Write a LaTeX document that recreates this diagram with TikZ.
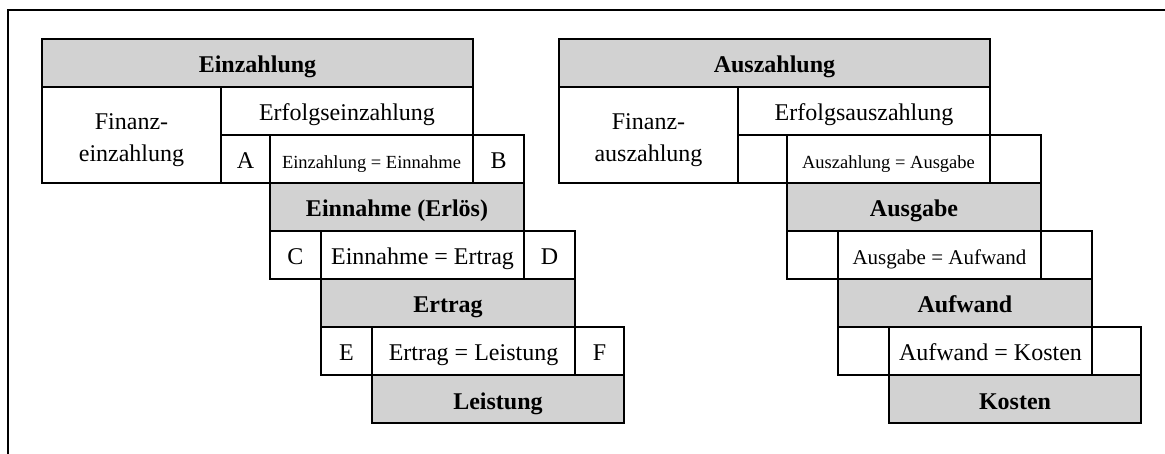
\documentclass[tikz,border=0pt]{standalone}
\usepackage{fontspec}
\setmainfont{Liberation Serif}
\definecolor{boxgray}{RGB}{210,210,210}
\newcommand{\fsmain}{\fontsize{24}{32}\selectfont}
\newcommand{\fssmall}{\fontsize{18.5}{22}\selectfont}
\newcommand{\fsmid}{\fontsize{21}{25}\selectfont}
\tikzset{
  cell/.style={draw, line width=2pt, inner sep=0pt, outer sep=0pt, fill=white,
    minimum height=48pt, font=\fsmain, text height=20pt, text depth=0pt},
  head/.style={cell, fill=boxgray, font=\fsmain\bfseries},
  twoline/.style={cell, align=center, text height=, text depth=},
  frameline/.style={line width=2.4pt}
}
\begin{document}
\begin{tikzpicture}[x=1pt, y=-1pt]
\useasboundingbox (0,0) rectangle (1165,454);
\draw[frameline] (8,454) -- (8,10) -- (1165,10);

% left block: Einzahlung cascade
\node[head, minimum width=431pt] (ein) at (257.5,63) {Einzahlung};
\node[cell, minimum width=179pt, minimum height=96pt] (finE) at (131.5,135) {};
\node[twoline, draw=none, fill=none] (finEt) at (131.5,140) {Finanz-\\einzahlung};
\node[cell, minimum width=252pt] (erfE) at (347,111) {Erfolgseinzahlung};
\node[cell, minimum width=49pt] (cA) at (245.5,159) {A};
\node[cell, minimum width=203pt, font=\fssmall] (eqA) at (371.5,159) {Einzahlung = Einnahme};
\node[cell, minimum width=51pt] (cB) at (498.5,159) {B};
\node[head, minimum width=254pt] (einn) at (397,207) {Einnahme (Erlös)};
\node[cell, minimum width=51pt] (cC) at (295.5,255) {C};
\node[cell, minimum width=203pt] (eqC) at (422.5,255) {Einnahme = Ertrag};
\node[cell, minimum width=51pt] (cD) at (549.5,255) {D};
\node[head, minimum width=254pt] (ertr) at (448,303) {Ertrag};
\node[cell, minimum width=51pt] (cE) at (346.5,351) {E};
\node[cell, minimum width=203pt] (eqE) at (473.5,351) {Ertrag = Leistung};
\node[cell, minimum width=49pt] (cF) at (599.5,351) {F};
\node[head, minimum width=252pt] (leist) at (498,399) {Leistung};

% right block: Auszahlung cascade
\node[head, minimum width=431pt] (aus) at (774.5,63) {Auszahlung};
\node[cell, minimum width=179pt, minimum height=96pt] (finA) at (648.5,135) {};
\node[twoline, draw=none, fill=none] (finAt) at (648.5,140) {Finanz-\\auszahlung};
\node[cell, minimum width=252pt] (erfA) at (864,111) {Erfolgsauszahlung};
\node[cell, minimum width=49pt] (cA2) at (762.5,159) {};
\node[cell, minimum width=203pt, font=\fssmall] (eqA2) at (888.5,159) {Auszahlung = Ausgabe};
\node[cell, minimum width=51pt] (cB2) at (1015.5,159) {};
\node[head, minimum width=254pt] (ausg) at (914,207) {Ausgabe};
\node[cell, minimum width=51pt] (cC2) at (812.5,255) {};
\node[cell, minimum width=203pt, font=\fsmid] (eqC2) at (939.5,255) {Ausgabe = Aufwand};
\node[cell, minimum width=51pt] (cD2) at (1066.5,255) {};
\node[head, minimum width=254pt] (aufw) at (965,303) {Aufwand};
\node[cell, minimum width=51pt] (cE2) at (863.5,351) {};
\node[cell, minimum width=203pt] (eqE2) at (990.5,351) {Aufwand = Kosten};
\node[cell, minimum width=49pt] (cF2) at (1116.5,351) {};
\node[head, minimum width=252pt] (kost) at (1015,399) {Kosten};
\end{tikzpicture}
\end{document}
